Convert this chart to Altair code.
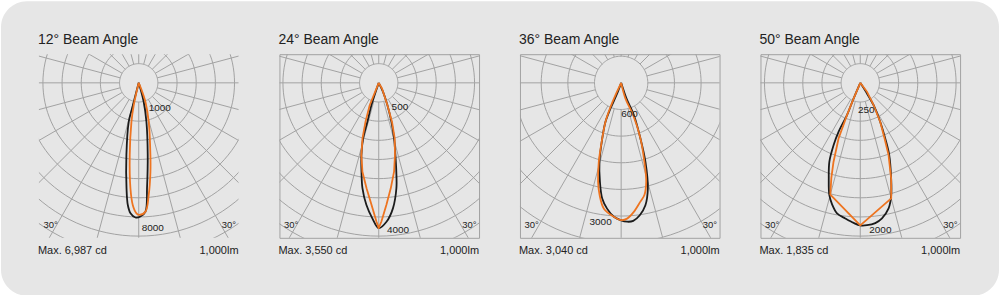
import altair as alt
import numpy as np
import pandas as pd

# ---------------- data ----------------
titles = ["12° Beam Angle", "24° Beam Angle", "36° Beam Angle", "50° Beam Angle"]
max_labels = ["Max. 6,987 cd", "Max. 3,550 cd", "Max. 3,040 cd", "Max. 1,835 cd"]
flux_label = "1,000lm"
side_label = "30°"
ring_step_cd = [1000, 500, 600, 250]          # candela per grid ring
ring_labels = [["1000", "8000"], ["500", "4000"], ["600", "3000"], ["250", "2000"]]
ray_step_deg = 15

# black curves (angle from nadir in degrees, intensity in cd)
black_angle = [
    [-15, -14.6, -14.4, -9.7, -6.6, -5.1, -3.6, -1.4, 0.7, 3.0, 4.5, 7.1, 11.2, 14.7, 15],
    [-18, -18.2, -16.2, -15.7, -13.5, -11.0, -8.8, -5.8, -2.7, 0, 3.2, 6.5, 9.5, 11.2, 13.0, 15.4, 18.0, 21.3, 25.5, 25],
    [-21, -20.9, -22.6, -21.9, -18.8, -15.4, -12.1, -9.3, -6.4, -3.1, -0.3, 2.5, 5.0, 8.0, 11.2, 14.2, 17.1, 19.1, 21.5, 18.7, 19],
    [-23, -23.1, -22.4, -23.9, -23.2, -21.4, -18.3, -15.4, -13.0, -10.1, -6.3, -2.7, 0, 2.7, 6.1, 9.1, 12.7, 15.4, 17.9, 21.9, 24.2, 27.1, 30.8, 32.3, 32],
]
black_cd = [
    [0, 1380, 2100, 3820, 5540, 6400, 6820, 7030, 6980, 6730, 5520, 3800, 2070, 1020, 0],
    [0, 610, 1060, 1510, 1940, 2360, 2780, 3200, 3540, 3790, 3630, 3290, 2790, 2360, 1930, 1510, 1070, 620, 260, 0],
    [0, 300, 630, 950, 1320, 1840, 2280, 2640, 2850, 3020, 3090, 3130, 3120, 3010, 2810, 2450, 1860, 1330, 780, 370, 0],
    [0, 220, 455, 700, 880, 1105, 1310, 1520, 1630, 1730, 1780, 1830, 1860, 1860, 1840, 1790, 1680, 1520, 1310, 1010, 790, 570, 340, 140, 0],
]
# orange curves
orange_angle = [
    [-13, -12.6, -10.6, -7.1, -4.5, -2.8, -1.0, 0.3, 3.0, 5.1, 7.5, 9.2, 14.4, 19.4, 22, 22],
    [-22, -22, -18.8, -16.3, -13.5, -10.4, -6.6, -3.4, -0.95, 0, 1.1, 3.6, 6.5, 9.8, 12.7, 16.0, 18.8, 21.3, 30, 30],
    [-25, -24.9, -23.7, -21.9, -18.8, -15.8, -13.1, -10.9, -7.8, -3.1, 0, 2.5, 5.6, 9.2, 11.7, 14.2, 16.4, 19.1, 20.4, 15.3, 15],
    [-23, -23.1, -22.4, -21.3, -18.7, -16.9, -15, 0, 15, 17.9, 21.4, 23.6, 27.1, 30.8, 36.7, 36],
]
orange_cd = [
    [0, 1190, 2070, 3800, 5520, 6380, 6810, 6890, 6730, 5870, 4680, 3810, 2100, 1050, 320, 0],
    [0, 630, 1070, 1510, 1940, 2360, 2770, 3190, 3620, 3790, 3620, 3190, 2770, 2350, 1930, 1510, 1070, 620, 170, 0],
    [0, 310, 630, 950, 1320, 1850, 2290, 2570, 2860, 3020, 3090, 3060, 2920, 2710, 2580, 2300, 1850, 1330, 780, 370, 0],
    [0, 220, 455, 780, 1090, 1300, 1510, 1860, 1560, 1310, 1010, 790, 570, 340, 150, 0],
]

# ---------------- layout / style ----------------
BG = "#e6e6e6"
GRID = "#a2a2a2"
TXT = "#222222"
BLACK = "#1b1b1b"
ORANGE = "#ee7420"
FONT = "Liberation Sans"
W, H = 200, 184
SPACING = 41
ring_px = [19.2, 19.2, 26.7, 19.2]           # pixel size of one ring per panel
center_px = [(100, 28.7), (99.5, 28.7), (101.4, 28.7), (100, 28.7)]
ring_label_pos = [[(110, 53.7), (103, 173.7)], [(112.4, 52.7), (107.7, 175.7)],
                  [(101.4, 60.4), (69.7, 168.4)], [(97.6, 56.4), (109, 176.4)]]
orange_interp = ["catmull-rom", "linear", "catmull-rom", "linear"]


def polar_table(angles, cds):
    a = np.radians(np.array(angles, dtype=float))
    r = np.array(cds, dtype=float)
    return pd.DataFrame({"x": r * np.sin(a), "y": r * np.cos(a), "i": np.arange(len(r))})


def panel(p):
    step = ring_step_cd[p]
    k = step / ring_px[p]                     # cd per pixel
    cx, cy = center_px[p]
    xs = alt.Scale(domain=[-cx * k, (W - cx) * k], nice=False, zero=False)
    ys = alt.Scale(domain=[-cy * k, (H - cy) * k], nice=False, zero=False, reverse=True)
    X = alt.X("x:Q", scale=xs, axis=None)
    Y = alt.Y("y:Q", scale=ys, axis=None)

    # rings
    n_rings = 11
    th = np.radians(np.arange(0, 361, 3))
    rings = pd.concat([pd.DataFrame({"x": j * step * np.sin(th), "y": j * step * np.cos(th),
                                     "ring": j, "i": np.arange(len(th))})
                       for j in range(1, n_rings + 1)])
    # rays
    rows = []
    for a in range(0, 360, ray_step_deg):
        t = np.radians(a)
        for i, rr in enumerate([step, 20 * step]):
            rows.append({"x": rr * np.sin(t), "y": rr * np.cos(t), "ray": a, "i": i})
    rays = pd.DataFrame(rows)

    layers = []
    if p == 0:
        bg = alt.Chart(pd.DataFrame({"a": [0]})).mark_rect(cornerRadius=26, color=BG).encode(
            x=alt.value(-38), x2=alt.value(962), y=alt.value(-53), y2=alt.value(242))
        layers.append(bg)

    layers.append(alt.Chart(rings).mark_line(clip=True, color=GRID, strokeWidth=1).encode(
        x=X, y=Y, detail="ring:N", order="i:Q"))
    layers.append(alt.Chart(rays).mark_line(clip=True, color=GRID, strokeWidth=1).encode(
        x=X, y=Y, detail="ray:N", order="i:Q"))

    layers.append(alt.Chart(polar_table(black_angle[p], black_cd[p])).mark_line(
        color=BLACK, strokeWidth=1.8, interpolate="catmull-rom", strokeJoin="round").encode(
        x=X, y=Y, order="i:Q"))
    layers.append(alt.Chart(polar_table(orange_angle[p], orange_cd[p])).mark_line(
        color=ORANGE, strokeWidth=1.8, interpolate=orange_interp[p], strokeJoin="round").encode(
        x=X, y=Y, order="i:Q"))

    # ring labels
    for (lx, ly), t in zip(ring_label_pos[p], ring_labels[p]):
        layers.append(alt.Chart(pd.DataFrame({"t": [t]})).mark_text(
            font=FONT, fontSize=10, color=TXT, align="left", baseline="middle").encode(
            x=alt.value(lx), y=alt.value(ly), text="t:N"))
    # 30° labels
    layers.append(alt.Chart(pd.DataFrame({"t": [side_label]})).mark_text(
        font=FONT, fontSize=9.5, color=TXT, align="left", baseline="middle").encode(
        x=alt.value(4.5), y=alt.value(171.5), text="t:N"))
    layers.append(alt.Chart(pd.DataFrame({"t": [side_label]})).mark_text(
        font=FONT, fontSize=9.5, color=TXT, align="right", baseline="middle").encode(
        x=alt.value(197.5), y=alt.value(171.5), text="t:N"))
    # title
    layers.append(alt.Chart(pd.DataFrame({"t": [titles[p]]})).mark_text(
        font=FONT, fontSize=14, color=TXT, align="left", baseline="alphabetic").encode(
        x=alt.value(-1), y=alt.value(-10.5), text="t:N"))
    # bottom texts
    layers.append(alt.Chart(pd.DataFrame({"t": [max_labels[p]]})).mark_text(
        font=FONT, fontSize=11, color=TXT, align="left", baseline="alphabetic").encode(
        x=alt.value(-1), y=alt.value(200), text="t:N"))
    layers.append(alt.Chart(pd.DataFrame({"t": [flux_label]})).mark_text(
        font=FONT, fontSize=11, color=TXT, align="right", baseline="alphabetic").encode(
        x=alt.value(200), y=alt.value(200), text="t:N"))

    return alt.layer(*layers).properties(width=W, height=H)


chart = alt.hconcat(*[panel(p) for p in range(4)], spacing=SPACING, bounds="flush").properties(
    padding=0, background="white"
).configure_view(stroke=GRID, strokeWidth=1)

chart.save("out.html", embed_options={"renderer": "svg", "actions": False})
